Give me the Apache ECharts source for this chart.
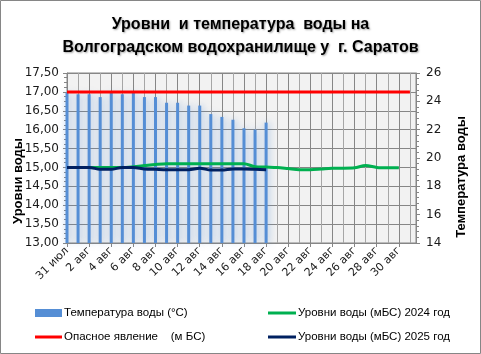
<!DOCTYPE html>
<html>
<head>
<meta charset="utf-8">
<script src="https://cdn.jsdelivr.net/npm/echarts@6/dist/echarts.min.js"></script>
<style>
  html, body { margin: 0; padding: 0; background: #fff; }
  #chart { width: 481px; height: 354px; }
</style>
</head>
<body>
<div id="chart"></div>
<script>
// дни (31 июл .. 31 авг)
const days = ['31 июл', '1 авг', '2 авг', '3 авг', '4 авг', '5 авг', '6 авг', '7 авг', '8 авг', '9 авг',
  '10 авг', '11 авг', '12 авг', '13 авг', '14 авг', '15 авг', '16 авг', '17 авг', '18 авг', '19 авг',
  '20 авг', '21 авг', '22 авг', '23 авг', '24 авг', '25 авг', '26 авг', '27 авг', '28 авг', '29 авг',
  '30 авг', '31 авг'];

// температура воды, °C (правая ось)
const tempWater = [24.6, 24.5, 24.5, 24.3, 24.6, 24.5, 24.6, 24.3, 24.3, 23.9,
  23.9, 23.7, 23.7, 23.1, 22.9, 22.7, 22.1, 22.0, 22.5];

// уровни воды, м БС
const level2024 = [15.00, 15.00, 15.00, 15.00, 15.00, 15.00, 15.02, 15.05, 15.08, 15.10,
  15.10, 15.10, 15.10, 15.10, 15.10, 15.10, 15.10, 15.02, 15.01, 15.00,
  14.97, 14.94, 14.94, 14.96, 14.98, 14.98, 14.99, 15.05, 15.00, 14.99,
  14.99];
const level2025 = [15.00, 15.00, 15.00, 14.95, 14.95, 15.00, 15.00, 14.96, 14.95, 14.94,
  14.94, 14.94, 14.98, 14.93, 14.93, 14.96, 14.96, 14.95, 14.94];
const danger = [17, 17, 17, 17, 17, 17, 17, 17, 17, 17, 17, 17, 17, 17, 17, 17,
  17, 17, 17, 17, 17, 17, 17, 17, 17, 17, 17, 17, 17, 17, 17, 17];

const levelTicks = { min: 13, max: 17.5, step: 0.5 };
const tempTicks = { min: 14, max: 26, step: 2 };

const names = {
  temp: 'Температура воды (°C)',
  danger: 'Опасное явление    (м БС)',
  y2024: 'Уровни воды (мБС) 2024 год',
  y2025: 'Уровни воды (мБС) 2025 год'
};

const pairs = arr => arr.map((v, i) => [i, v]);

const chart = echarts.init(document.getElementById('chart'));
const axisFont = { color: '#1a1a1a', fontSize: 11, fontFamily: 'DejaVu Sans' };
const legendText = { fontSize: 11.5, color: '#000', fontFamily: 'Liberation Sans', lineHeight: 14, padding: [0, 0, 0, -3] };

chart.setOption({
  animation: false,
  title: {
    text: 'Уровни  и температура  воды на\nВолгоградском водохранилище у  г. Саратов',
    left: 'center',
    top: 8,
    textStyle: {
      fontSize: 16,
      fontWeight: 'bold',
      color: '#000',
      fontFamily: 'Liberation Sans',
      lineHeight: 23,
      textShadowColor: 'rgba(0,0,0,0.35)',
      textShadowBlur: 2,
      textShadowOffsetX: 1,
      textShadowOffsetY: 1
    }
  },
  graphic: [
    { type: 'rect', shape: { x: 0.5, y: 0.5, width: 480, height: 353 },
      style: { fill: 'none', stroke: '#868686', lineWidth: 1 }, silent: true },
    { type: 'text', x: 18, y: 181, rotation: Math.PI / 2,
      style: { text: 'Уровни воды', font: 'bold 13px Liberation Sans', fill: '#000',
        align: 'center', verticalAlign: 'middle' } },
    { type: 'text', x: 461, y: 177, rotation: Math.PI / 2,
      style: { text: 'Температура воды', font: 'bold 13px Liberation Sans', fill: '#000',
        align: 'center', verticalAlign: 'middle' } }
  ],
  grid: {
    left: 67,
    right: 65,
    top: 73,
    bottom: 111,
    show: true,
    backgroundColor: '#f2f2f2',
    borderColor: '#868686',
    borderWidth: 1
  },
  legend: [
    { left: 35, top: 306, padding: 0, itemWidth: 27, itemHeight: 8, icon: 'rect',
      textStyle: legendText, data: [names.temp] },
    { left: 35, top: 330, padding: 0, itemWidth: 27, itemHeight: 3, icon: 'rect',
      textStyle: legendText, data: [names.danger] },
    { left: 268, top: 306, padding: 0, itemWidth: 28, itemHeight: 3, icon: 'rect',
      textStyle: legendText, data: [names.y2024] },
    { left: 268, top: 330, padding: 0, itemWidth: 28, itemHeight: 3, icon: 'rect',
      textStyle: legendText, data: [names.y2025] }
  ],
  xAxis: {
    type: 'value',
    min: 0,
    max: 31.55,
    interval: 2,
    axisLine: { lineStyle: { color: '#868686' } },
    axisTick: { show: true, length: 4, lineStyle: { color: '#868686' } },
    minorTick: { show: false, splitNumber: 2 },
    splitLine: { show: true, lineStyle: { color: '#868686', width: 1 } },
    minorSplitLine: { show: true, lineStyle: { color: '#a6a6a6', width: 1 } },
    axisLabel: Object.assign({
      rotate: 45,
      margin: 6,
      showMaxLabel: false,
      formatter: v => days[v] || ''
    }, axisFont)
  },
  yAxis: [
    {
      type: 'value',
      min: levelTicks.min,
      max: levelTicks.max,
      interval: levelTicks.step,
      axisLine: { show: true, lineStyle: { color: '#868686' } },
      axisTick: { show: true, length: 4, lineStyle: { color: '#868686' } },
      minorTick: { show: true, splitNumber: 4, length: 3, lineStyle: { color: '#868686' } },
      splitLine: { show: true, lineStyle: { color: '#868686', width: 1 } },
      axisLabel: Object.assign({
        margin: 8,
        formatter: v => v.toFixed(2).replace('.', ',')
      }, axisFont, { fontSize: 12 })
    },
    {
      type: 'value',
      min: tempTicks.min,
      max: tempTicks.max,
      interval: tempTicks.step,
      position: 'right',
      axisLine: { show: true, lineStyle: { color: '#868686' } },
      axisTick: { show: true, length: 4, lineStyle: { color: '#868686' } },
      minorTick: { show: true, splitNumber: 5, length: 3, lineStyle: { color: '#868686' } },
      splitLine: { show: false },
      axisLabel: Object.assign({ margin: 10 }, axisFont, { fontSize: 12 })
    }
  ],
  series: [
    {
      name: names.temp,
      type: 'bar',
      yAxisIndex: 1,
      barWidth: 3,
      data: pairs(tempWater),
      itemStyle: {
        color: '#558ed5',
        shadowColor: 'rgba(85,142,213,0.55)',
        shadowBlur: 7,
        shadowOffsetX: 1
      }
    },
    {
      name: names.danger,
      type: 'line',
      data: pairs(danger),
      showSymbol: false,
      lineStyle: { color: '#ff0000', width: 3 },
      itemStyle: { color: '#ff0000' }
    },
    {
      name: names.y2024,
      type: 'line',
      data: pairs(level2024),
      showSymbol: false,
      smooth: 0.3,
      lineStyle: { color: '#00b050', width: 3 },
      itemStyle: { color: '#00b050' }
    },
    {
      name: names.y2025,
      type: 'line',
      data: pairs(level2025),
      showSymbol: false,
      smooth: 0.3,
      lineStyle: { color: '#002060', width: 3 },
      itemStyle: { color: '#002060' }
    }
  ]
});
</script>
</body>
</html>
